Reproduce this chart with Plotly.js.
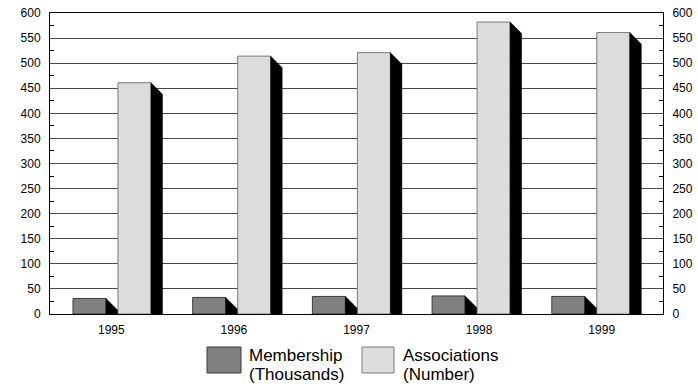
<!DOCTYPE html>
<html>
<head>
<meta charset="utf-8">
<script src="https://cdn.plot.ly/plotly-3.0.1.min.js"></script>
<style>
html,body{margin:0;padding:0;background:#fff;}
#chart{width:698px;height:386px;}
</style>
</head>
<body>
<div id="chart"></div>
<script>
// ---- data ----
const years = ['1995', '1996', '1997', '1998', '1999'];
const membership = [31, 33, 35, 36, 35];          // thousands
const associations = [461, 514, 521, 582, 561];   // number
const seriesNames = ['Membership', 'Associations'];
const seriesUnits = ['(Thousands)', '(Number)'];

// ---- layout constants ----
const plotW = 613, plotH = 301;
const x2Range = [-0.568, 4.553];
const pxPerX2 = plotW / (x2Range[1] - x2Range[0]);
const faceW = 33 / pxPerX2;
const memOffset = -45 / pxPerX2;
const assOffset = 0;
const depthX = 11.5 / pxPerX2;
const depthY = 11.5 * 600 / plotH;

const idx = years.map((_, i) => i);

function sides(vals, offset) {
  const xs = [], ys = [];
  vals.forEach((v, i) => {
    const xr = i + offset + faceW;
    xs.push(xr, xr + depthX, xr + depthX, xr, xr, null);
    ys.push(v, Math.max(v - depthY, 0), 0, 0, v, null);
  });
  return {xs, ys};
}

const memSide = sides(membership, memOffset);
const assSide = sides(associations, assOffset);

const traces = [
  {type: 'bar', x: idx, y: membership, xaxis: 'x2', yaxis: 'y', name: seriesNames[0],
   offset: memOffset, width: faceW,
   marker: {color: '#808080', line: {color: '#3c3c3c', width: 1}}, hoverinfo: 'skip'},
  {type: 'bar', x: idx, y: associations, xaxis: 'x2', yaxis: 'y', name: seriesNames[1],
   offset: assOffset, width: faceW,
   marker: {color: '#dcdcdc', line: {color: '#7a7a7a', width: 1}}, hoverinfo: 'skip'},
  {type: 'scatter', mode: 'lines', x: memSide.xs, y: memSide.ys, xaxis: 'x2', yaxis: 'y',
   fill: 'toself', fillcolor: '#000', line: {color: '#000', width: 0.5}, hoverinfo: 'skip'},
  {type: 'scatter', mode: 'lines', x: assSide.xs, y: assSide.ys, xaxis: 'x2', yaxis: 'y',
   fill: 'toself', fillcolor: '#000', line: {color: '#000', width: 0.5}, hoverinfo: 'skip'},
  {type: 'scatter', mode: 'none', x: [0], y: [0], xaxis: 'x', yaxis: 'y2', hoverinfo: 'skip'},
  {type: 'scatter', mode: 'none', x: [0], y: [0], xaxis: 'x', yaxis: 'y', hoverinfo: 'skip'}
];

const fontFam = '"Liberation Sans", Arial, sans-serif';
const yCommon = {
  range: [0, 600], dtick: 50, tick0: 0, fixedrange: true,
  ticks: '', ticklabelstandoff: 6, showline: true, linecolor: '#000', linewidth: 1,
  tickfont: {family: fontFam, size: 12, color: '#000'},
  minor: {dtick: 25, ticks: 'inside', ticklen: 4, tickcolor: '#000', tickwidth: 1, showgrid: false},
  zeroline: false
};

function py(p) { return (314 - p) / plotH; }       // pixel y -> paper y
function px(p) { return (p - 50) / plotW; }        // pixel x -> paper x

const legendFont = {family: fontFam, size: 17, color: '#000'};

const layout = {
  width: 698, height: 386,
  margin: {l: 50, r: 35, t: 13, b: 72, pad: 0},
  paper_bgcolor: '#fff', plot_bgcolor: '#fff',
  showlegend: false,
  barmode: 'overlay',
  font: {family: fontFam, color: '#000'},
  xaxis: {
    range: [-0.5, 4.5], tickvals: idx, ticktext: years, ticks: '', ticklabelstandoff: 5,
    showline: true, mirror: true, linecolor: '#000', linewidth: 1,
    showgrid: false, zeroline: false, fixedrange: true,
    tickfont: {family: fontFam, size: 12, color: '#000'}
  },
  xaxis2: {range: x2Range, overlaying: 'x', anchor: 'y', visible: false, fixedrange: true},
  yaxis: Object.assign({}, yCommon, {showgrid: true, gridcolor: '#4a4a4a', gridwidth: 1}),
  yaxis2: Object.assign({}, yCommon, {overlaying: 'y', side: 'right', anchor: 'x', showgrid: false}),
  shapes: [
    {type: 'rect', xref: 'paper', yref: 'paper', x0: px(207), x1: px(241), y0: py(347), y1: py(373),
     fillcolor: '#808080', line: {color: '#3c3c3c', width: 1}},
    {type: 'rect', xref: 'paper', yref: 'paper', x0: px(362), x1: px(394), y0: py(347), y1: py(373),
     fillcolor: '#dcdcdc', line: {color: '#7a7a7a', width: 1}}
  ],
  annotations: [
    {xref: 'paper', yref: 'paper', x: px(248), y: py(355), xanchor: 'left', yanchor: 'middle',
     text: seriesNames[0], showarrow: false, font: legendFont, borderpad: 0},
    {xref: 'paper', yref: 'paper', x: px(248), y: py(374), xanchor: 'left', yanchor: 'middle',
     text: seriesUnits[0], showarrow: false, font: legendFont, borderpad: 0},
    {xref: 'paper', yref: 'paper', x: px(402), y: py(355), xanchor: 'left', yanchor: 'middle',
     text: seriesNames[1], showarrow: false, font: legendFont, borderpad: 0},
    {xref: 'paper', yref: 'paper', x: px(402), y: py(374), xanchor: 'left', yanchor: 'middle',
     text: seriesUnits[1], showarrow: false, font: legendFont, borderpad: 0}
  ]
};

Plotly.newPlot('chart', traces, layout, {staticPlot: true, displayModeBar: false});
</script>
</body>
</html>
